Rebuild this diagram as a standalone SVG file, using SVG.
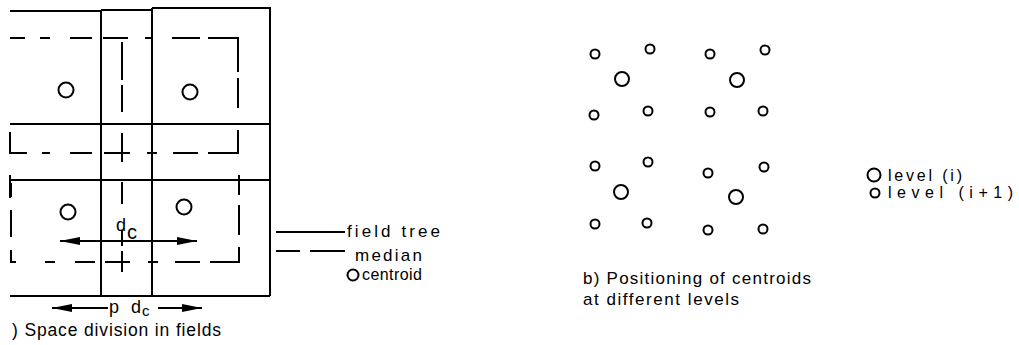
<svg xmlns="http://www.w3.org/2000/svg" width="1019" height="345" viewBox="0 0 1019 345">
<style>
.solid{fill:none;stroke:#000;stroke-width:2}
.med{fill:none;stroke:#000;stroke-width:2}
.c{fill:none;stroke:#000;stroke-width:2}
.t{font-family:"Liberation Sans",Arial,sans-serif;fill:#000}
</style>
<defs>
<marker id="ah" viewBox="0 0 20 8" refX="20" refY="4" markerWidth="20" markerHeight="8" orient="auto-start-reverse" markerUnits="userSpaceOnUse"><path d="M0,0 L20,4 L0,8 z" fill="#000"/></marker>
</defs>
<rect width="1019" height="345" fill="#fff"/>

<g id="field-tree">
<path class="solid" d="M10,11 H101 M101,10 H152 M152,8 H270 M270,7 V296 M101,10 V296 M152,8 V296 M10,124 H270 M10,180 H270 M10,296 H270 M10,175 V198"/>
</g>

<g id="medians">
<path class="med" d="M10,38 H25 M40,38 H50 M70,38 H92 M103,38 H128 M145,38 H152 M172,38 H200 M208,38 H238 V72 M238,78 V108"/>
<path class="med" d="M10,132 V153 H27 M42,153 H50 M70,153 H92 M104,153 H130 M147,153 H157 M173,153 H198 M208,153 H238 V130"/>
<path class="med" d="M11,183 V197 M11,210 V237 M11,250 V262 H16 M45,262 H55 M75,262 H95 M105,262 H130 M148,262 H158 M175,262 H200 M210,262 H239 V247 M239,235 V205 M239,195 V175"/>
<path class="med" d="M122,42 V80 M122,85 V112 M122,133 V162 M122,182 V204 M122,230 V246 M122,251 V272"/>
</g>

<g id="centroids-a">
<circle class="c" cx="66" cy="90" r="7.5"/>
<circle class="c" cx="190" cy="92" r="7.5"/>
<circle class="c" cx="68" cy="212" r="7.5"/>
<circle class="c" cx="184" cy="207" r="7.5"/>
</g>

<g id="connectors">
<line class="solid" x1="60" y1="241" x2="197" y2="241" marker-start="url(#ah)" marker-end="url(#ah)"/>
<line class="solid" x1="52" y1="308" x2="108" y2="308" marker-start="url(#ah)"/>
<line class="solid" x1="158" y1="308" x2="202" y2="308" marker-end="url(#ah)"/>
</g>

<g id="labels-a">
<text class="t" x="116" y="231" font-size="18">d</text>
<text class="t" x="127" y="239" font-size="20">c</text>
<text class="t" x="109" y="313" font-size="18">p</text>
<text class="t" x="131" y="313" font-size="18">d</text>
<text class="t" x="142" y="316" font-size="15">c</text>
<text class="t" x="12" y="336" font-size="17.5" textLength="209" lengthAdjust="spacing">) Space division in fields</text>
</g>

<g id="legend-a">
<line class="solid" x1="276" y1="232" x2="345" y2="232"/>
<text class="t" x="347" y="237" font-size="17" textLength="93" lengthAdjust="spacing">field tree</text>
<path class="med" d="M276,251 H300 M310,251 H345"/>
<text class="t" x="355" y="261" font-size="17" textLength="67" lengthAdjust="spacing">median</text>
<circle class="c" cx="353" cy="275" r="5.5"/>
<text class="t" x="362" y="280" font-size="16" textLength="60" lengthAdjust="spacing">centroid</text>
</g>

<g id="centroids-b">
<circle class="c" cx="595" cy="54" r="4.5"/>
<circle class="c" cx="650" cy="49" r="4.5"/>
<circle class="c" cx="710" cy="54" r="4.5"/>
<circle class="c" cx="765" cy="50" r="4.5"/>
<circle class="c" cx="622" cy="79" r="7"/>
<circle class="c" cx="737" cy="80" r="7"/>
<circle class="c" cx="594" cy="115" r="4.5"/>
<circle class="c" cx="648" cy="111" r="4.5"/>
<circle class="c" cx="710" cy="112" r="4.5"/>
<circle class="c" cx="763" cy="111" r="4.5"/>
<circle class="c" cx="595" cy="166" r="4.5"/>
<circle class="c" cx="648" cy="162" r="4.5"/>
<circle class="c" cx="708" cy="173" r="4.5"/>
<circle class="c" cx="764" cy="167" r="4.5"/>
<circle class="c" cx="621" cy="192" r="7"/>
<circle class="c" cx="736" cy="197" r="7"/>
<circle class="c" cx="595" cy="224" r="4.5"/>
<circle class="c" cx="647" cy="223" r="4.5"/>
<circle class="c" cx="708" cy="230" r="4.5"/>
<circle class="c" cx="763" cy="229" r="4.5"/>
</g>

<g id="legend-b">
<circle class="c" cx="874" cy="175" r="6.5"/>
<text class="t" x="888" y="181" font-size="16" textLength="74" lengthAdjust="spacing">level (i)</text>
<circle class="c" cx="875" cy="193" r="4.5"/>
<text class="t" x="888" y="198" font-size="16" textLength="125" lengthAdjust="spacing">level  (i+1)</text>
</g>

<g id="caption-b">
<text class="t" x="583" y="284" font-size="17" textLength="228" lengthAdjust="spacing">b) Positioning of centroids</text>
<text class="t" x="583" y="305" font-size="17" textLength="156" lengthAdjust="spacing">at different levels</text>
</g>
</svg>
